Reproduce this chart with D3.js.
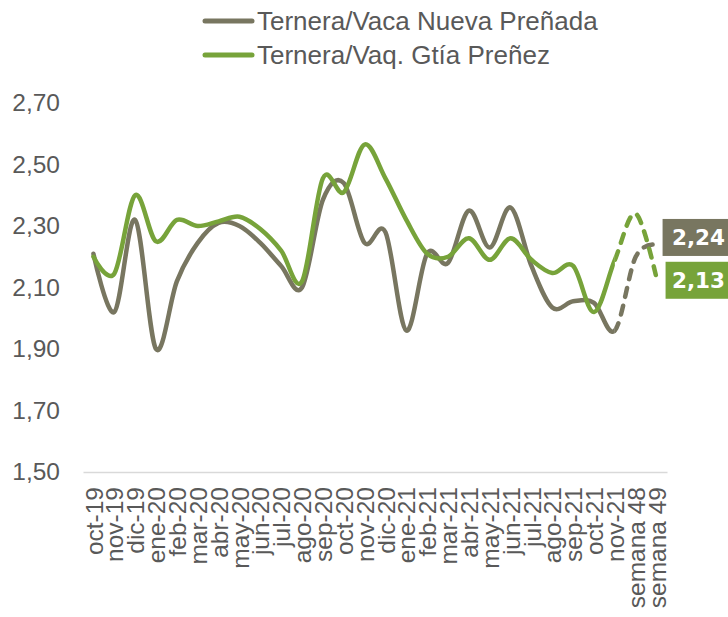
<!DOCTYPE html>
<html>
<head>
<meta charset="utf-8">
<script src="https://cdn.jsdelivr.net/npm/d3@7"></script>
<style>
  body { margin: 0; background: #fff; }
  text { font-family: "Liberation Sans", Arial, sans-serif; }
</style>
</head>
<body>
<div id="chart"></div>
<script>
// precio ternera / vaca
var width = 728;
var height = 617;

var months = ["oct-19", "nov-19", "dic-19", "ene-20", "feb-20", "mar-20", "abr-20",
  "may-20", "jun-20", "jul-20", "ago-20", "sep-20", "oct-20", "nov-20", "dic-20",
  "ene-21", "feb-21", "mar-21", "abr-21", "may-21", "jun-21", "jul-21", "ago-21",
  "sep-21", "oct-21", "nov-21", "semana 48", "semana 49"];

var vacaNueva = [2.21, 2.02, 2.32, 1.90, 2.12, 2.245, 2.31, 2.30, 2.245, 2.17, 2.10,
  2.385, 2.44, 2.245, 2.28, 1.96, 2.21, 2.18, 2.35, 2.23, 2.36, 2.17, 2.035, 2.055,
  2.05, 1.96, 2.20, 2.24];

var vaqGtia = [2.20, 2.145, 2.40, 2.25, 2.32, 2.30, 2.315, 2.33, 2.29, 2.22, 2.12,
  2.455, 2.41, 2.565, 2.455, 2.32, 2.21, 2.20, 2.26, 2.19, 2.26, 2.19, 2.147, 2.17,
  2.02, 2.19, 2.34, 2.13];

var yTicks = [1.5, 1.7, 1.9, 2.1, 2.3, 2.5, 2.7];

var series = [
  {name: "Ternera/Vaca Nueva Preñada", values: vacaNueva, color: "#787660"},
  {name: "Ternera/Vaq. Gtía Preñez", values: vaqGtia, color: "#77a33a"}
];

var es = d3.formatLocale({decimal: ",", thousands: ".", grouping: [3], currency: ["", "€"]});
var fmt = es.format(".2f");

var svg = d3.select("div#chart")
    .append("svg")
    .attr("width", width)
    .attr("height", height);

var x = d3.scalePoint()
    .domain(months)
    .range([83, 667])
    .padding(0.5);

var y = d3.scaleLinear()
    .domain([1.5, 2.7])
    .range([472, 103]);

// eje y sin linea
var yAxis = svg.append("g")
    .attr("transform", "translate(83,0)")
    .call(d3.axisLeft(y).tickValues(yTicks).tickSize(0).tickPadding(23).tickFormat(fmt));
yAxis.select(".domain").remove();
yAxis.selectAll("text")
    .attr("font-size", 24.5)
    .attr("fill", "#595959")
    .attr("font-family", "Liberation Sans, Arial, sans-serif");

// eje x
var xAxis = svg.append("g")
    .attr("transform", "translate(0,472)")
    .call(d3.axisBottom(x).tickSize(0));
xAxis.select(".domain")
    .attr("stroke", "#d9d9d9")
    .attr("stroke-width", 1.5);
xAxis.selectAll("text")
    .attr("transform", "rotate(-90)")
    .attr("x", -15)
    .attr("y", 0)
    .attr("dy", "0.35em")
    .attr("text-anchor", "end")
    .attr("font-size", 24.5)
    .attr("fill", "#595959")
    .attr("font-family", "Liberation Sans, Arial, sans-serif");

// tramo solido hasta nov-21, discontinuo despues
var split = x("nov-21");
var defs = svg.append("defs");
defs.append("clipPath").attr("id", "solid")
  .append("rect").attr("x", 0).attr("y", 0).attr("width", split).attr("height", height);
defs.append("clipPath").attr("id", "dashed")
  .append("rect").attr("x", split).attr("y", 0).attr("width", width - split).attr("height", height);

var line = d3.line()
    .x((d, i) => x(months[i]))
    .y((d) => y(d))
    .curve(d3.curveCardinal.tension(0));

series.forEach(function(s) {
  svg.append("path")
      .attr("d", line(s.values))
      .attr("fill", "none")
      .attr("stroke", s.color)
      .attr("stroke-width", 4.5)
      .attr("stroke-linecap", "round")
      .attr("clip-path", "url(#solid)");
  svg.append("path")
      .attr("d", line(s.values))
      .attr("fill", "none")
      .attr("stroke", s.color)
      .attr("stroke-width", 4.5)
      .attr("stroke-linecap", "round")
      .attr("stroke-dasharray", "9,9")
      .attr("stroke-dashoffset", -4)
      .attr("clip-path", "url(#dashed)");
});

// etiquetas del ultimo valor
var lastX = x(months[months.length - 1]);
var labelShift = [-7, 2];
series.forEach(function(s, k) {
  var v = s.values[s.values.length - 1];
  var cy = y(v) + labelShift[k];
  var g = svg.append("g");
  g.append("rect")
      .attr("x", lastX + 6 + k * 3)
      .attr("y", cy - 18.5)
      .attr("width", 70)
      .attr("height", 37)
      .attr("fill", s.color);
  g.append("text")
      .attr("x", 725)
      .attr("y", cy + 8)
      .attr("text-anchor", "end")
      .style("font-family", "'DejaVu Sans', sans-serif")
      .style("font-weight", "bold")
      .style("font-size", "21.5px")
      .attr("fill", "#fff")
      .text(fmt(v));
});

// leyenda
var legend = svg.append("g");
series.forEach(function(s, k) {
  var ly = 21 + k * 34;
  legend.append("line")
      .attr("x1", 205).attr("x2", 252)
      .attr("y1", ly).attr("y2", ly)
      .attr("stroke", s.color)
      .attr("stroke-width", 5)
      .attr("stroke-linecap", "round");
  legend.append("text")
      .attr("x", 257)
      .attr("y", ly + 9)
      .attr("font-size", 26)
      .attr("fill", "#595959")
      .text(s.name);
});
</script>
</body>
</html>
